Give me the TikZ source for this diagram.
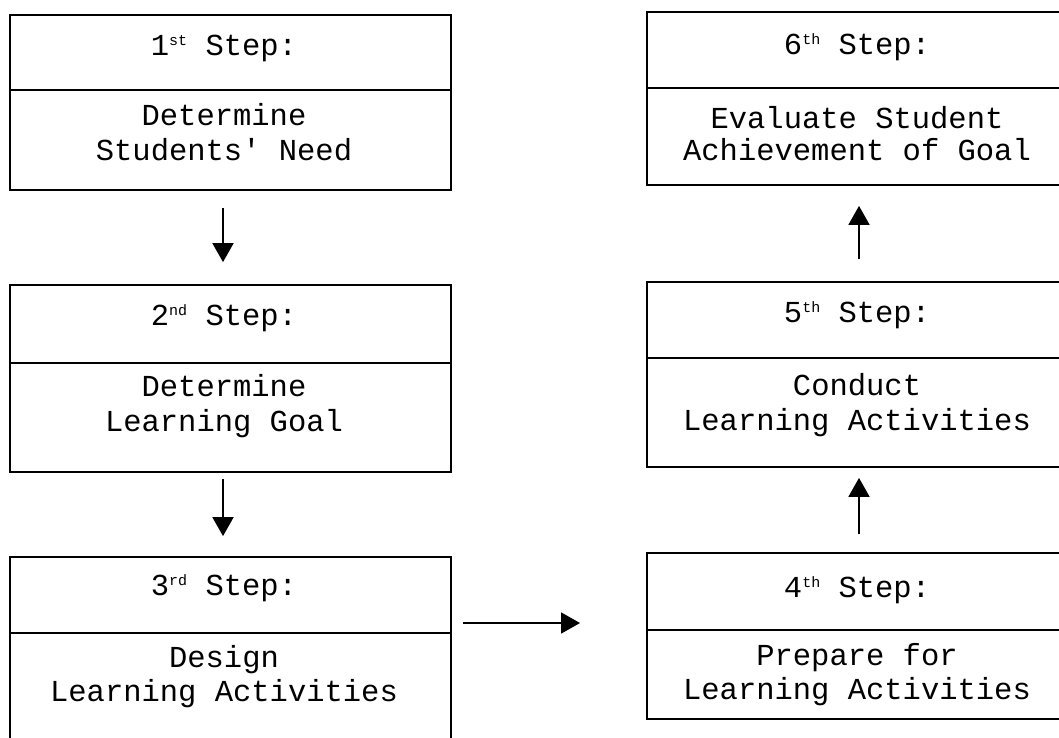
\documentclass[tikz,border=0pt]{standalone}
\usepackage{fontspec}
\newfontfamily\courfont{Liberation Mono}
\usetikzlibrary{arrows.meta}
\newcommand{\supx}[1]{\raisebox{10pt}{\fontsize{15}{15}\selectfont #1}}
\begin{document}
\begin{tikzpicture}[x=1pt,y=-1pt,
  part/.style={draw, line width=1.8pt, inner sep=0pt, minimum width=441pt},
  lbl/.style={inner sep=0pt, font=\courfont\fontsize{30.5}{35}\selectfont, anchor=base},
  arr/.style={line width=1.8pt, -{Triangle[length=19pt,width=21pt]}}]
\clip (0,0) rectangle (1059,737);
\fill[white] (0,0) rectangle (1059,737);
% left column
\node[part, minimum height=75pt]  (t1) at (230.5,52.5) {};
\node[part, minimum height=100pt] (b1) at (230.5,140) {};
\node[part, minimum height=78pt]  (t2) at (230.5,324) {};
\node[part, minimum height=109pt] (b2) at (230.5,417.5) {};
\node[part, minimum height=76pt]  (t3) at (230.5,595) {};
\node[part, minimum height=127pt] (b3) at (230.5,696.5) {};
% right column
\node[part, minimum height=76pt]  (t6) at (867.5,50) {};
\node[part, minimum height=97pt]  (b6) at (867.5,136.5) {};
\node[part, minimum height=76pt]  (t5) at (867.5,320) {};
\node[part, minimum height=109pt] (b5) at (867.5,412.5) {};
\node[part, minimum height=77pt]  (t4) at (867.5,591.5) {};
\node[part, minimum height=89pt]  (b4) at (867.5,674.5) {};
% texts
\node[lbl] (t1a) at (224,55) {1\supx{st} Step:};
\node[lbl] (b1a) at (224,125) {Determine};
\node[lbl] (b1b) at (224,160) {Students' Need};
\node[lbl] (t2a) at (224,325) {2\supx{nd} Step:};
\node[lbl] (b2a) at (224,396) {Determine};
\node[lbl] (b2b) at (224,431) {Learning Goal};
\node[lbl] (t3a) at (224,595) {3\supx{rd} Step:};
\node[lbl] (b3a) at (224,667) {Design};
\node[lbl] (b3b) at (224,701) {Learning Activities};
\node[lbl] (t6a) at (857,54) {6\supx{th} Step:};
\node[lbl] (b6a) at (857,128) {Evaluate Student};
\node[lbl] (b6b) at (857,160) {Achievement of Goal};
\node[lbl] (t5a) at (857,322) {5\supx{th} Step:};
\node[lbl] (b5a) at (857,395) {Conduct};
\node[lbl] (b5b) at (857,430) {Learning Activities};
\node[lbl] (t4a) at (857,597) {4\supx{th} Step:};
\node[lbl] (b4a) at (857,665) {Prepare for};
\node[lbl] (b4b) at (857,699) {Learning Activities};
% connectors
\draw[arr, shorten <=17pt, shorten >=22pt] ([xshift=-7.5pt]b1.south) -- ([xshift=-7.5pt]t2.north);
\draw[arr, shorten <=6pt, shorten >=20pt] ([xshift=-7.5pt]b2.south) -- ([xshift=-7.5pt]t3.north);
\draw[arr, shorten <=18pt, shorten >=10pt] ([xshift=-8.5pt]t4.north) -- ([xshift=-8.5pt]b5.south);
\draw[arr, shorten <=22pt, shorten >=20pt] ([xshift=-8.5pt]t5.north) -- ([xshift=-8.5pt]b6.south);
\coordinate (h1) at (463,623);
\coordinate (h2) at (580,623);
\draw[arr] (h1) -- (h2);
\end{tikzpicture}
\end{document}
